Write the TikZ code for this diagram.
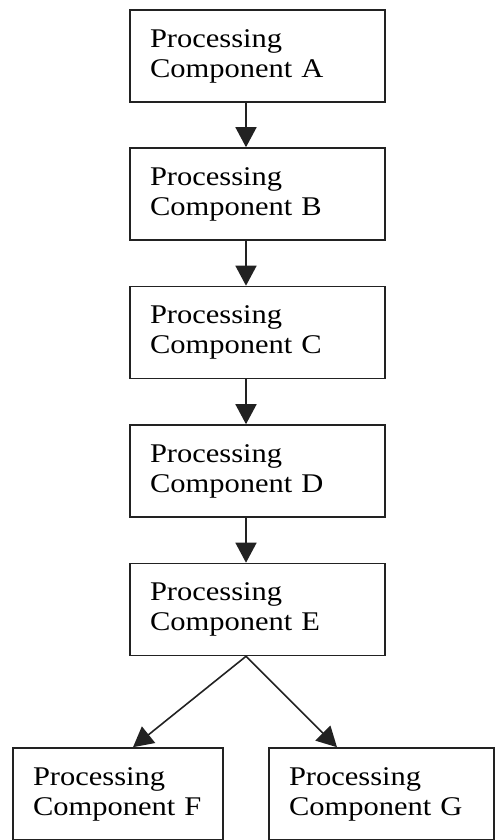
\documentclass[tikz,border=0pt]{standalone}
\usepackage{fontspec}
\newfontfamily\labfont[FakeStretch=1.13]{Liberation Serif}
\usetikzlibrary{arrows.meta}
\definecolor{ink}{HTML}{222222}
\tikzset{
  box/.style={draw=ink, line width=1.6pt, rectangle, minimum width=255pt, minimum height=92pt,
    inner xsep=20pt, inner ysep=0pt, text width=215pt, align=left,
    font=\labfont\fontsize{27pt}{30pt}\selectfont, text=black},
  lowbox/.style={box, minimum width=210pt, text width=170pt},
  arr/.style={draw=ink, line width=1.6pt, -{Triangle[width=21pt,length=20pt]}}
}
\begin{document}
\begin{tikzpicture}[x=1pt,y=-1pt]
\useasboundingbox (0,0) rectangle (495,840);
\node[box] (A) at (257.5,56) {Processing\\Component A};
\node[box] (B) at (257.5,194) {Processing\\Component B};
\node[box] (C) at (257.5,332.5) {Processing\\Component C};
\node[box] (D) at (257.5,471) {Processing\\Component D};
\node[box] (E) at (257.5,609.5) {Processing\\Component E};
\node[lowbox] (F) at (118,794) {Processing\\Component F};
\node[lowbox, minimum width=225pt, text width=185pt] (G) at (381.5,794) {Processing\\Component G};
\draw[arr] ([xshift=-11.5pt]A.south) -- ([xshift=-11.5pt]B.north);
\draw[arr] ([xshift=-11.5pt]B.south) -- ([xshift=-11.5pt]C.north);
\draw[arr] ([xshift=-11.5pt]C.south) -- ([xshift=-11.5pt]D.north);
\draw[arr] ([xshift=-11.5pt]D.south) -- ([xshift=-11.5pt]E.north);
\coordinate (Es) at ([xshift=-11.5pt]E.south);
\draw[arr] (Es) -- ([xshift=15pt]F.north);
\draw[arr] (Es) -- ([xshift=-44.5pt]G.north);
\end{tikzpicture}
\end{document}
